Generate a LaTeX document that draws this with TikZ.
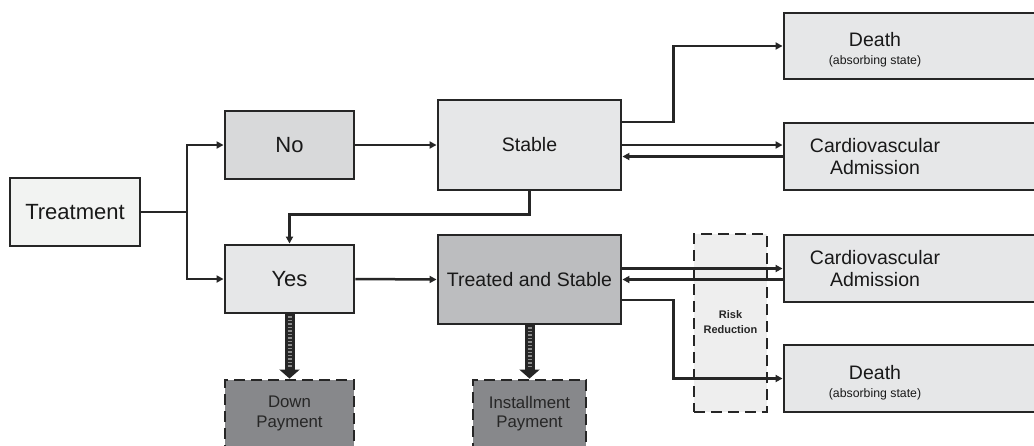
\documentclass[tikz,border=0pt]{standalone}
\usepackage{fontspec}
\setmainfont{Liberation Sans}
\usetikzlibrary{arrows.meta,calc}
\definecolor{bord}{HTML}{262626}
\definecolor{fTreat}{HTML}{F2F3F2}
\definecolor{fNo}{HTML}{D8D9DA}
\definecolor{fLight}{HTML}{E6E7E8}
\definecolor{fTS}{HTML}{BCBDBF}
\definecolor{fPay}{HTML}{87888B}
\definecolor{fRisk}{HTML}{EEEEEE}
\tikzset{
  box/.style={draw=bord, line width=2.9pt, inner sep=0pt, align=center, text=black!90},
  paybox/.style={box, fill=fPay, dash pattern=on 11pt off 6pt},
  paytext/.style={align=center, font=\fontsize{16.8}{19.5}\selectfont, text=black!85},
  conn/.style={draw=bord, line width=2.5pt, -{Triangle[length=7pt,width=7pt]}},
  bigL/.style={font=\fontsize{22}{25}\selectfont},
  bigR/.style={font=\fontsize{19.5}{22.5}\selectfont},
  smallT/.style={font=\fontsize{12.3}{14}\selectfont, text=black!90},
  fat/.style={draw=black!85, line width=10pt, -{Triangle[length=9pt,width=20pt]}},
  fattex/.style={draw=black!45, line width=4pt, dash pattern=on 1.5pt off 2pt},
}
\begin{document}
\begin{tikzpicture}[x=1pt,y=-1pt]
\useasboundingbox (0,0) rectangle (1034,445);
\clip (0,0) rectangle (1034,445);
\fill[white] (0,0) rectangle (1034,445);

% risk reduction band
\node[draw=bord, line width=2.9pt, dash pattern=on 11pt off 6pt, fill=fRisk,
      minimum width=73pt, minimum height=178pt, inner sep=0pt] (risk) at (730.5,323) {};
\node[font=\bfseries\fontsize{11}{15}\selectfont, align=center, text=black!85] (riskt) at (730.5,322) {Risk\\Reduction};

% left nodes
\node[box, bigL, fill=fTreat, minimum width=130pt, minimum height=68pt] (treat) at (75,212) {Treatment};
\node[box, bigL, fill=fNo, minimum width=129pt, minimum height=68pt] (no) at (289.5,145) {No};
\node[box, bigL, fill=fLight, minimum width=129pt, minimum height=68pt] (yes) at (289.5,279) {Yes};
\node[box, bigR, fill=fLight, minimum width=183pt, minimum height=90pt] (stable) at (529.5,145) {Stable};
\node[box, bigR, fill=fTS, minimum width=183pt, minimum height=89pt] (ts) at (529.5,279.5) {Treated and Stable};

% payment boxes
\node[paybox, minimum width=129pt, minimum height=68pt] (down) at (289.5,414) {};
\node[paytext] (downt) at (289.5,413.5) {Down\\Payment};
\node[paybox, minimum width=113pt, minimum height=68pt] (inst) at (529.5,414) {};
\node[paytext] (instt) at (529.5,413.5) {Installment\\Payment};

% right boxes (extend past the right edge)
\node[box, fill=fLight, minimum width=260pt, minimum height=66pt] (death1) at (914,46) {};
\node[bigR, text=black!90] (death1t) at (875,40) {Death};
\node[smallT] (death1s) at (875,61.5) {(absorbing state)};
\node[box, fill=fLight, minimum width=260pt, minimum height=67pt] (ca1) at (914,156.5) {};
\node[align=center, bigR, text=black!90] (ca1t) at (875,156.5) {Cardiovascular\\Admission};
\node[box, fill=fLight, minimum width=260pt, minimum height=67pt] (ca2) at (914,268.5) {};
\node[align=center, bigR, text=black!90] (ca2t) at (875,268.5) {Cardiovascular\\Admission};
\node[box, fill=fLight, minimum width=260pt, minimum height=67pt] (death2) at (914,378.5) {};
\node[bigR, text=black!90] (death2t) at (875,372.5) {Death};
\node[smallT] (death2s) at (875,394) {(absorbing state)};

% connectors
\coordinate (split) at (187,212);
\draw[draw=bord, line width=2.5pt] (treat.east) -- (split);
\draw[conn] (split) |- (no.west);
\draw[conn] (split) |- (yes.west);
\draw[conn] (no.east) -- (stable.west);
\draw[conn] (yes.east) -- (ts.west);
\draw[conn] (stable.south) -- ++(0,23) -| (yes.north);

\draw[conn] ([yshift=23pt]stable.east) -| ([xshift=-109pt]death1.west) -- (death1.west);
\draw[conn] (stable.east) -- (stable.east -| ca1.west);
\draw[conn] (ca1.west) -- (ca1.west -| stable.east);

\draw[conn] (ts.east |- ca2.west) -- (ca2.west);
\draw[conn] (ca2.west |- ts.east) -- (ts.east);
\draw[conn] ([yshift=-20.5pt]ts.east) -| ([xshift=-109pt]death2.west) -- (death2.west);

% thick payment arrows
\draw[fat] (yes.south) -- (down.north);
\draw[fattex] ([yshift=-2pt]yes.south) -- ([yshift=12pt]down.north);
\draw[fat] (ts.south) -- (inst.north);
\draw[fattex] ([yshift=-2pt]ts.south) -- ([yshift=12pt]inst.north);
\end{tikzpicture}
\end{document}
